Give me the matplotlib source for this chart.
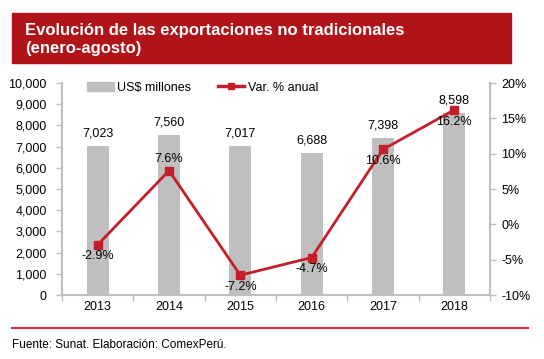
import matplotlib
matplotlib.use('Agg')
import matplotlib.pyplot as plt
from matplotlib.patches import Rectangle
from matplotlib.lines import Line2D

plt.rcParams['font.family'] = ['Liberation Sans', 'DejaVu Sans']

years = ['2013', '2014', '2015', '2016', '2017', '2018']
exports = [7023, 7560, 7017, 6688, 7398, 8598]
var_pct = [-2.9, 7.6, -7.2, -4.7, 10.6, 16.2]
# label placement for the % values: below/above the marker
pct_pos = ['below', 'above', 'below', 'below', 'below', 'below']

BAR = '#BFBFBF'
RED = '#C41E2A'
BANNER = '#B01419'
SPINE = '#BFBFBF'

fig = plt.figure(figsize=(5.44, 3.59), dpi=100)

# title banner
fig.patches.append(Rectangle((12 / 544, 1 - 63 / 359), 499 / 544, 50 / 359,
                             transform=fig.transFigure, color=BANNER, zorder=0))
fig.text(25 / 544, 1 - 30 / 359, 'Evolución de las exportaciones no tradicionales',
         color='white', fontsize=12, fontweight='bold', va='center', ha='left')
fig.text(25 / 544, 1 - 48 / 359, '(enero-agosto)',
         color='white', fontsize=12, fontweight='bold', va='center', ha='left')

ax = fig.add_axes([62 / 544, 1 - 295 / 359, 428 / 544, 212 / 359])
x = list(range(len(years)))
ax.bar(x, exports, width=0.31, color=BAR, zorder=1)
ax.set_ylim(0, 10000)
ax.set_xlim(-0.5, len(years) - 0.5)
ax.set_yticks(range(0, 10001, 1000))
ax.set_yticklabels([f'{v:,}' for v in range(0, 10001, 1000)])
ax.set_xticks(x)
ax.set_xticklabels(years)
ax.set_xticks([i - 0.5 for i in range(len(years) + 1)], minor=True)
ax.tick_params(axis='x', which='major', length=0, labelsize=9, pad=4)
ax.tick_params(axis='x', which='minor', length=4, color=SPINE, width=1)
ax.tick_params(axis='y', length=4, color=SPINE, width=1, labelsize=9, pad=7)
for s in ['top', 'right']:
    ax.spines[s].set_visible(False)
for s in ['left', 'bottom']:
    ax.spines[s].set_color(SPINE)
    ax.spines[s].set_linewidth(1.5)

for xi, v in zip(x, exports):
    ax.text(xi, v + 300, f'{v:,}', ha='center', va='bottom', fontsize=9)

ax2 = ax.twinx()
ax2.plot(x, var_pct, color=RED, lw=2, marker='s', markersize=6, zorder=3)
ax2.set_ylim(-10, 20)
ax2.set_yticks(range(-10, 21, 5))
ax2.set_yticklabels([f'{v}%' for v in range(-10, 21, 5)])
ax2.tick_params(axis='y', length=4, color=SPINE, width=1, labelsize=9, pad=4)
for s in ['top', 'left', 'bottom']:
    ax2.spines[s].set_visible(False)
ax2.spines['right'].set_color(SPINE)
ax2.spines['right'].set_linewidth(1.5)

for xi, v, pos in zip(x, var_pct, pct_pos):
    dy = -0.8 if pos == 'below' else 0.8
    va = 'top' if pos == 'below' else 'bottom'
    ax2.text(xi, v + dy, f'{v}%', ha='center', va=va, fontsize=9)

handles = [Rectangle((0, 0), 1, 1, color=BAR),
           Line2D([], [], color=RED, lw=2.5, marker='s', markersize=5)]
ax.legend(handles, ['US$ millones', 'Var. % anual'], ncol=2, frameon=False,
          loc='upper left', bbox_to_anchor=(0.033, 1.06), fontsize=9,
          handlelength=2.1, handletextpad=0.3, columnspacing=2.1)

# bottom rule and source
fig.add_artist(Line2D([12 / 544, 528 / 544], [1 - 328 / 359, 1 - 328 / 359],
                      color='#D42B3A', lw=1.5, transform=fig.transFigure))
fig.text(12 / 544, 1 - 345 / 359, 'Fuente: Sunat. Elaboración: ComexPerú.',
         fontsize=8.5, va='center', ha='left')

fig.savefig('out.png', dpi=100)
